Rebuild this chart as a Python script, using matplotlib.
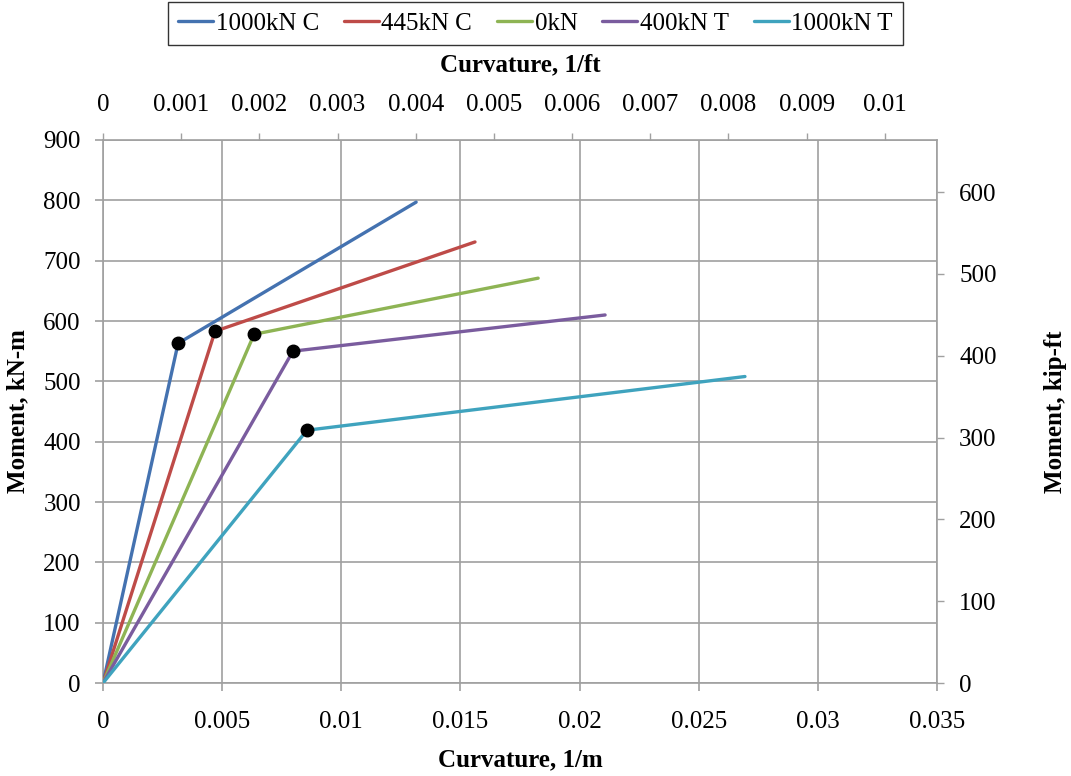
import matplotlib
matplotlib.use("Agg")
import matplotlib.pyplot as plt

plt.rcParams['font.family'] = ['Liberation Serif', 'DejaVu Serif']

series_names = ["1000kN C", "445kN C", "0kN", "400kN T", "1000kN T"]
colors = ["#4472B0", "#BE4B48", "#8EB454", "#7A5C9E", "#3FA3BE"]
# curvature (1/m) and moment (kN-m): origin, yield, ultimate
curv_1000C = [0.0, 0.00315, 0.01314]
mom_1000C = [0, 563, 797]
curv_445C = [0.0, 0.0047, 0.01561]
mom_445C = [0, 583, 731]
curv_0 = [0.0, 0.00634, 0.01826]
mom_0 = [0, 578, 671]
curv_400T = [0.0, 0.00797, 0.02107]
mom_400T = [0, 550, 610]
curv_1000T = [0.0, 0.00856, 0.02694]
mom_1000T = [0, 419, 508]

curvs = [curv_1000C, curv_445C, curv_0, curv_400T, curv_1000T]
moms = [mom_1000C, mom_445C, mom_0, mom_400T, mom_1000T]

FS = 18
fig = plt.figure(figsize=(10.71, 7.76), dpi=100)
ax = fig.add_axes([0.0962, 0.1198, 0.7787, 0.6998])

grid_c = "#A0A0A0"
for name, c, x, y in zip(series_names, colors, curvs, moms):
    ax.plot(x, y, color=c, lw=2.4, label=name, solid_capstyle='round', zorder=3)
for x, y in zip(curvs, moms):
    ax.plot([x[1]], [y[1]], 'o', color='black', ms=9, zorder=4)

ax.set_xlim(0, 0.035)
ax.set_ylim(0, 900)
ax.set_xticks([0, 0.005, 0.01, 0.015, 0.02, 0.025, 0.03, 0.035])
ax.set_xticklabels(["0", "0.005", "0.01", "0.015", "0.02", "0.025", "0.03", "0.035"])
ax.set_yticks(range(0, 901, 100))
ax.grid(True, color=grid_c, lw=1.2)
for s in ax.spines.values():
    s.set_color(grid_c)
    s.set_linewidth(1.2)
ax.tick_params(axis='x', labelsize=FS, color=grid_c, length=6, width=1.2, pad=14)
ax.tick_params(axis='y', labelsize=FS, color=grid_c, length=6, width=1.2, pad=10)
ax.set_xlabel("Curvature, 1/m", fontsize=FS, fontweight='bold', va='center', ha='center')
ax.xaxis.set_label_coords(0.5, (683 - 760) / 543)
ax.set_ylabel("Moment, kN-m", fontsize=FS, fontweight='bold', va='center', ha='center')
ax.yaxis.set_label_coords((18 - 103) / 834, 0.5)

# top axis 1/ft
axt = ax.twiny()
axt.set_xlim(0, 0.035 * 0.3048)
axt.set_xticks([i * 0.001 for i in range(0, 11)])
axt.set_xticklabels(["0"] + ["0.%03d" % i for i in range(1, 10)] + ["0.01"])
axt.tick_params(axis='x', labelsize=FS, color=grid_c, length=5, width=1.0, pad=12)
axt.set_xlabel("Curvature, 1/ft", fontsize=FS, fontweight='bold', va='center', ha='center')
axt.xaxis.set_label_coords(0.5, (683 - 65) / 543)
for s in axt.spines.values():
    s.set_visible(False)

# right axis kip-ft
axr = ax.twinx()
axr.set_ylim(0, 900 / 1.35582)
axr.set_yticks(range(0, 601, 100))
axr.tick_params(axis='y', labelsize=FS, color=grid_c, length=5, width=1.0, pad=11)
axr.set_ylabel("Moment, kip-ft", fontsize=FS, fontweight='bold', va='center', ha='center')
axr.yaxis.set_label_coords((1055 - 103) / 834, 0.5)
for s in axr.spines.values():
    s.set_visible(False)

handles, labels = ax.get_legend_handles_labels()
leg = fig.legend(handles, labels, loc='upper center', bbox_to_anchor=(0.5, 0.997), ncol=5,
                 fontsize=FS, frameon=True, fancybox=False, edgecolor='black',
                 handlelength=1.4, handletextpad=0.1, columnspacing=1.0,
                 borderpad=0.4, borderaxespad=0.0)
leg.get_frame().set_linewidth(1.0)

fig.savefig("out.png", dpi=100)
